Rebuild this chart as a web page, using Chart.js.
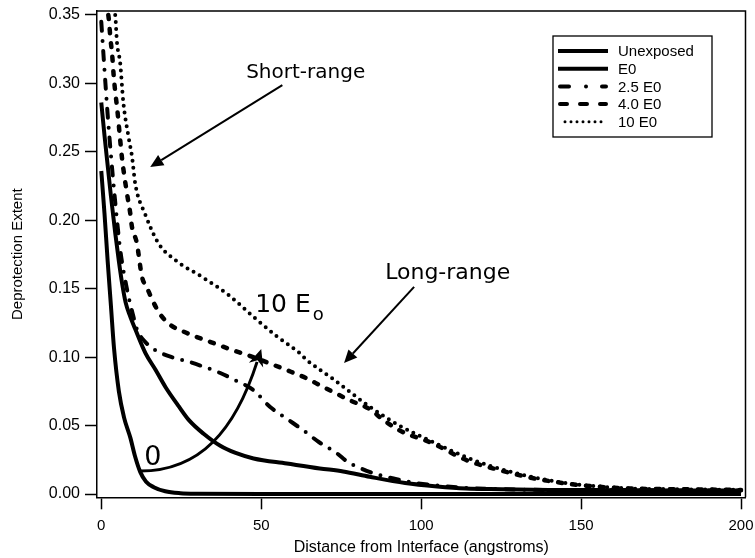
<!DOCTYPE html>
<html><head><meta charset="utf-8">
<script src="https://cdn.jsdelivr.net/npm/chart.js@4"></script>
<style>html,body{margin:0;padding:0;background:#fff}canvas{display:block}</style>
</head><body>
<canvas id="c" width="755" height="558"></canvas>
<script>
// ---------- data ----------
const seriesLabels = ['Unexposed', 'E0', '2.5 E0', '4.0 E0', '10 E0'];

const unexposedX = [0, 1, 2, 3, 4, 5.5, 7.1, 9.1, 10.5, 12.2, 14, 16.4, 20, 24.7, 30, 50, 100, 150, 200];
const unexposedY = [0.236, 0.205, 0.17, 0.138, 0.106, 0.075, 0.056, 0.041, 0.028, 0.016, 0.009, 0.005, 0.002, 0.0006, 0.0002, 0, 0, 0, 0];

const e0X = [0, 1, 2, 3, 4.4, 5.5, 6.5, 7.6, 9, 10.7, 13.8, 17, 20.1, 24.3, 27.4, 32, 37.2, 42, 47.6, 58, 68.3, 75.6, 83.9, 95, 105, 114, 125, 140, 160, 180, 200];
const e0Y = [0.286, 0.262, 0.24, 0.218, 0.19, 0.17, 0.154, 0.14, 0.13, 0.12, 0.103, 0.0906, 0.078, 0.0638, 0.054, 0.044, 0.0352, 0.03, 0.026, 0.0223, 0.0187, 0.0165, 0.0126, 0.008, 0.0055, 0.004, 0.0035, 0.003, 0.0028, 0.0025, 0.0025];

const e25X = [0, 1, 2, 3, 4, 5, 6, 8, 10, 11.2, 13.8, 17, 22, 27.3, 32, 37.2, 42, 47.5, 52.7, 58, 63, 68, 73.5, 77, 80.8, 86, 92, 98.4, 106, 114, 125, 140, 160, 180, 200];
const e25Y = [0.345, 0.31, 0.277, 0.248, 0.222, 0.198, 0.177, 0.15, 0.13, 0.12, 0.111, 0.105, 0.1, 0.0967, 0.093, 0.0884, 0.083, 0.076, 0.0638, 0.055, 0.0468, 0.038, 0.03, 0.0235, 0.019, 0.0145, 0.011, 0.008, 0.006, 0.0044, 0.0035, 0.003, 0.003, 0.0025, 0.0025];

const e40X = [1.5, 2.3, 2.9, 3.4, 3.9, 4.4, 5, 5.9, 6.5, 8, 9, 9.6, 11.1, 12.7, 14.3, 16.4, 18.5, 21.6, 25.8, 29.5, 34.2, 40, 47.5, 57.9, 64.2, 68.3, 72.5, 77.7, 83.9, 88, 93.2, 103.6, 114, 124.4, 134.7, 145, 155.5, 166, 180, 200];
const e40Y = [0.36, 0.348, 0.332, 0.321, 0.305, 0.293, 0.281, 0.259, 0.245, 0.22, 0.206, 0.195, 0.1835, 0.159, 0.1506, 0.1396, 0.131, 0.1235, 0.1186, 0.115, 0.111, 0.106, 0.1, 0.0906, 0.0845, 0.0795, 0.0745, 0.0685, 0.062, 0.0545, 0.0465, 0.037, 0.0249, 0.0175, 0.0117, 0.0078, 0.0053, 0.004, 0.0035, 0.003];

const e100X = [3.5, 4.4, 4.9, 5.9, 6.9, 8.5, 9.6, 10.6, 13.8, 17.9, 23.1, 31.9, 40, 47.5, 55, 62, 64.2, 72.5, 83.9, 93.2, 103.6, 114, 124.4, 134.7, 145, 155.5, 166, 180, 200];
const e100Y = [0.36, 0.349, 0.33, 0.315, 0.286, 0.261, 0.2466, 0.227, 0.204, 0.183, 0.171, 0.158, 0.145, 0.1296, 0.115, 0.103, 0.098, 0.084, 0.0638, 0.05, 0.038, 0.027, 0.0185, 0.0125, 0.008, 0.0055, 0.004, 0.0035, 0.003];

const xTicks = [0, 50, 100, 150, 200];
const yTicks = [0, 0.05, 0.10, 0.15, 0.20, 0.25, 0.30, 0.35];

// ---------- helpers ----------
const pts = (xs, ys) => xs.map((v, i) => ({x: v, y: ys[i]}));
const FONT = "'Liberation Sans', Arial, sans-serif";
const ANN_FONT = "'DejaVu Sans', sans-serif";

const seriesStyles = [
  {width: 4, dash: [], cap: 'butt'},
  {width: 4, dash: [], cap: 'butt'},
  {width: 4, dash: [9, 10, 0, 10], cap: 'round'},
  {width: 4.5, dash: [4, 10], cap: 'round'},
  {width: 4, dash: [0, 7], cap: 'round'}
];
const legendDash = [[], [], [9, 17, 0, 16], [7, 13], [0, 6]];
const allData = [pts(unexposedX, unexposedY), pts(e0X, e0Y), pts(e25X, e25Y), pts(e40X, e40Y), pts(e100X, e100Y)];

const datasets = allData.map((d, i) => ({
  label: seriesLabels[i],
  data: d,
  borderColor: '#000',
  backgroundColor: '#000',
  borderWidth: seriesStyles[i].width,
  borderDash: seriesStyles[i].dash,
  borderCapStyle: seriesStyles[i].cap,
  borderJoinStyle: 'round',
  pointRadius: 0,
  fill: false,
  cubicInterpolationMode: 'monotone'
}));

function arrow(ctx, x1, y1, x2, y2, lw, hl, hw) {
  const ang = Math.atan2(y2 - y1, x2 - x1);
  const bx = x2 - hl * Math.cos(ang), by = y2 - hl * Math.sin(ang);
  ctx.lineWidth = lw;
  ctx.beginPath(); ctx.moveTo(x1, y1); ctx.lineTo(bx, by); ctx.stroke();
  ctx.beginPath();
  ctx.moveTo(x2, y2);
  ctx.lineTo(bx + hw * Math.sin(ang), by - hw * Math.cos(ang));
  ctx.lineTo(bx - hw * Math.sin(ang), by + hw * Math.cos(ang));
  ctx.closePath(); ctx.fill();
}

const decor = {
  id: 'decor',
  afterDraw(chart) {
    const {ctx, chartArea: a, scales: {x, y}} = chart;
    const px = v => x.getPixelForValue(v), py = v => y.getPixelForValue(v);
    ctx.save();
    ctx.strokeStyle = '#000'; ctx.fillStyle = '#000';
    // top and right frame
    ctx.lineWidth = 1.5;
    ctx.beginPath(); ctx.moveTo(a.left, a.top); ctx.lineTo(a.right, a.top); ctx.lineTo(a.right, a.bottom); ctx.stroke();

    // legend box
    const L = {left: 553, top: 36, right: 712, bottom: 137, row0: 51, rowH: 17.7, lx1: 560, lx2: 606, tx: 618};
    ctx.fillStyle = '#fff';
    ctx.fillRect(L.left, L.top, L.right - L.left, L.bottom - L.top);
    ctx.fillStyle = '#000';
    ctx.lineWidth = 1.3;
    ctx.strokeRect(L.left, L.top, L.right - L.left, L.bottom - L.top);
    ctx.font = '15px ' + FONT;
    ctx.textBaseline = 'middle'; ctx.textAlign = 'left';
    seriesLabels.forEach((lab, i) => {
      const yy = L.row0 + i * L.rowH;
      ctx.save();
      const st = seriesStyles[i];
      ctx.lineWidth = i === 4 ? 3 : 4;
      ctx.lineCap = st.cap;
      ctx.setLineDash(legendDash[i]);
      ctx.beginPath();
      if (i < 2) { ctx.moveTo(L.lx1 - 2, yy); ctx.lineTo(L.lx2 + 2, yy); }
      else if (i === 4) { ctx.moveTo(L.lx1 + 5, yy); ctx.lineTo(L.lx2 - 3, yy); }
      else { ctx.moveTo(L.lx1, yy); ctx.lineTo(L.lx2, yy); }
      ctx.stroke();
      ctx.restore();
      ctx.fillText(lab, L.tx, yy + 1);
    });

    // annotations (positioned in data units)
    ctx.textAlign = 'center'; ctx.textBaseline = 'middle';
    ctx.font = '20px ' + ANN_FONT;
    ctx.fillText('Short-range', px(63.9), py(0.3076));
    ctx.font = '22px ' + ANN_FONT;
    ctx.fillText('Long-range', px(108.3), py(0.1615));
    arrow(ctx, px(56.6), py(0.2988), px(15.3), py(0.2389), 2, 13, 6);
    arrow(ctx, px(97.8), py(0.1513), px(75.9), py(0.0957), 2, 13, 6);

    ctx.textAlign = 'left'; ctx.textBaseline = 'alphabetic';
    ctx.font = '25px ' + ANN_FONT;
    ctx.fillText('10 E', px(48.1), py(0.1332));
    ctx.font = '18px ' + ANN_FONT;
    ctx.fillText('o', px(66.1), py(0.1271));
    ctx.font = '27px ' + ANN_FONT;
    ctx.textAlign = 'center'; ctx.textBaseline = 'middle';
    ctx.fillText('0', px(16.1), py(0.0263));

    // curved arrow from "0" to "10 Eo"
    const c0 = [px(12.19), py(0.0168)], c1 = [px(30.94), py(0.0168)], c2 = [px(41.88), py(0.0468)], c3 = [px(50.0), py(0.106)];
    const ang = Math.atan2(c3[1] - c2[1], c3[0] - c2[0]);
    const hl = 17, hw = 7.5;
    const e = [c3[0] - hl * 0.8 * Math.cos(ang), c3[1] - hl * 0.8 * Math.sin(ang)];
    ctx.lineWidth = 3;
    ctx.beginPath(); ctx.moveTo(c0[0], c0[1]); ctx.bezierCurveTo(c1[0], c1[1], c2[0], c2[1], e[0], e[1]); ctx.stroke();
    const bx = c3[0] - hl * Math.cos(ang), by = c3[1] - hl * Math.sin(ang);
    ctx.beginPath();
    ctx.moveTo(c3[0], c3[1]);
    ctx.lineTo(bx + hw * Math.sin(ang), by - hw * Math.cos(ang));
    ctx.lineTo(c3[0] - hl * 0.7 * Math.cos(ang), c3[1] - hl * 0.7 * Math.sin(ang));
    ctx.lineTo(bx - hw * Math.sin(ang), by + hw * Math.cos(ang));
    ctx.closePath(); ctx.fill();
    ctx.restore();
  }
};

new Chart(document.getElementById('c'), {
  type: 'line',
  data: {datasets},
  options: {
    responsive: false,
    devicePixelRatio: 1,
    animation: false,
    events: [],
    layout: {padding: {top: 11, right: 9.5, left: 0, bottom: 0}},
    plugins: {legend: {display: false}, tooltip: {enabled: false}},
    scales: {
      x: {
        type: 'linear', min: -1.34, max: 201.4,
        afterBuildTicks: s => { s.ticks = xTicks.map(v => ({value: v})); },
        afterFit: s => { s.height = 558 - 497.3; s.paddingLeft = 0; s.paddingRight = 0; },
        ticks: {color: '#000', font: {family: FONT, size: 15}, padding: 8, maxRotation: 0, autoSkip: false, callback: v => String(v)},
        grid: {drawOnChartArea: false, drawTicks: true, tickLength: 12, tickColor: '#000', tickWidth: 1.5, color: '#000'},
        border: {display: true, color: '#000', width: 1.5},
        title: {display: true, text: 'Distance from Interface (angstroms)', color: '#000', font: {family: FONT, size: 16}, padding: {top: 0, bottom: 1}}
      },
      y: {
        type: 'linear', min: -0.0024, max: 0.3529,
        afterBuildTicks: s => { s.ticks = yTicks.map(v => ({value: v})); },
        afterFit: s => { s.width = 97; s.paddingTop = 0; s.paddingBottom = 0; },
        ticks: {color: '#000', font: {family: FONT, size: 16}, padding: 5, autoSkip: false, callback: v => v.toFixed(2)},
        grid: {drawOnChartArea: false, drawTicks: true, tickLength: 12, tickColor: '#000', tickWidth: 1.5, color: '#000'},
        border: {display: true, color: '#000', width: 1.5},
        title: {display: true, text: 'Deprotection Extent', color: '#000', font: {family: FONT, size: 15}, padding: {top: 9, bottom: 0}}
      }
    }
  },
  plugins: [decor]
});
</script>
</body></html>
